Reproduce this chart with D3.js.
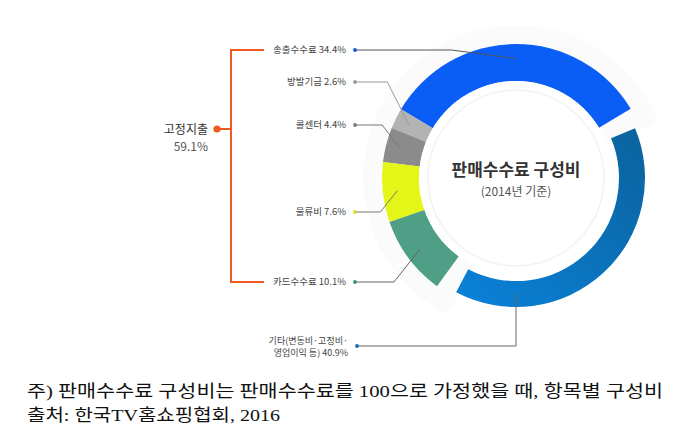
<!DOCTYPE html>
<html><head><meta charset="utf-8">
<script src="https://cdn.jsdelivr.net/npm/d3@7"></script>
<style>
body{margin:0;background:#fff;}
svg{display:block;font-family:"Noto Sans CJK KR","Noto Sans",sans-serif;}
</style>
</head><body>
<svg id="c" width="679" height="441"></svg>
<script>
// ---- data ----
const categories = ["송출수수료", "방발기금", "콜센터", "물류비", "카드수수료"];
const values = [34.4, 2.6, 4.4, 7.6, 10.1];
const otherLabelLines = ["기타(변동비·고정비·", "영업이익 등)"];
const otherValue = 40.9;
const groupLabel = "고정지출";
const groupValue = 59.1;
const titleText = "판매수수료 구성비";
const subtitleText = "(2014년 기준)";
const noteLines = ["주) 판매수수료 구성비는 판매수수료를 100으로 가정했을 때, 항목별 구성비",
                   "출처: 한국TV홈쇼핑협회, 2016"];

// ---- styles / layout ----
const colors = ["#0a5ef5", "#b3b3b3", "#8b8b8b", "#e4f518", "#4f9f86"];
const dotColors = ["#1a56d8", "#9a9a9a", "#7a7a7a", "#d4de1a", "#3f8f78"];
const lineColors = ["#555", "#999", "#777", "#777", "#666"];
const labelY = [50, 82, 125, 212, 282];
const cx = 516, cy = 178;
const rIn = 97, rOut = 134, rInO = 103, rOutO = 129, rHalo = 150;
const GAP = 8.5 * Math.PI / 180;
const fixedMid = -42.5 * Math.PI / 180;
const orange = "#ef5a24";

const svg = d3.select("#c");
const defs = svg.append("defs");
const f = defs.append("filter").attr("id", "sh").attr("x", "-20%").attr("y", "-20%").attr("width", "140%").attr("height", "140%");
f.append("feDropShadow").attr("dx", 0).attr("dy", 0).attr("stdDeviation", 2).attr("flood-color", "#000").attr("flood-opacity", 0.07);
const g2 = defs.append("linearGradient").attr("id", "og").attr("x1", 1).attr("y1", 0).attr("x2", 0).attr("y2", 1);
g2.append("stop").attr("offset", 0).attr("stop-color", "#0b629c");
g2.append("stop").attr("offset", 1).attr("stop-color", "#0a82da");

const angle = d3.scaleLinear().domain([0, 100]).range([0, 2 * Math.PI - 2 * GAP]);
const fixedSpan = angle(d3.sum(values));
const fixedEnd = fixedMid + fixedSpan / 2;
const fixedStart = fixedEnd - fixedSpan;
const pie = d3.pie().sort(null).value(d => d).startAngle(fixedEnd).endAngle(fixedStart);
const arcsData = pie(values);
const otherStart = fixedEnd + GAP;
const otherEnd = otherStart + angle(otherValue);

const chart = svg.append("g").attr("transform", `translate(${cx},${cy})`);

// halo behind fixed group
chart.append("path")
  .attr("d", d3.arc()({innerRadius: 0, outerRadius: rHalo, startAngle: fixedStart - GAP, endAngle: fixedEnd + GAP}))
  .attr("fill", "#fbfbfb").attr("filter", "url(#sh)");

const arcF = d3.arc().innerRadius(rIn).outerRadius(rOut);
chart.selectAll("path.seg").data(arcsData).join("path")
  .attr("class", "seg").attr("d", arcF).attr("fill", (d, i) => colors[i]);

const arcO = d3.arc().innerRadius(rInO).outerRadius(rOutO);
chart.append("path").attr("d", arcO({startAngle: otherStart, endAngle: otherEnd})).attr("fill", "url(#og)");

// inner circle
chart.append("circle").attr("r", rIn).attr("fill", "#fff");
chart.append("circle").attr("r", 88).attr("fill", "none").attr("stroke", "#f3f3f3").attr("stroke-width", 1.5);

chart.append("text").attr("y", -2).attr("text-anchor", "middle")
  .attr("font-size", 17).attr("font-weight", 700).attr("fill", "#333").text(titleText);
chart.append("text").attr("y", 18).attr("text-anchor", "middle")
  .attr("font-size", 12).attr("fill", "#555").text(subtitleText);

// labels and leader lines
const dotX = 355, textX = 346;
const arcMid = d3.arc().innerRadius((rIn + rOut) / 2).outerRadius((rIn + rOut) / 2 + 8);
arcsData.forEach((d, i) => {
  const c = arcMid.centroid(d);
  const tx = cx + c[0], ty = cy + c[1];
  const y = labelY[i];
  let pts;
  if (Math.abs(ty - y) < 4) pts = [[dotX, y], [tx, y]];
  else {
    const ex = dotX + 0.6 * (tx - dotX);
    pts = [[dotX, y], [ex, y], [tx, ty]];
  }
  svg.append("path").attr("d", d3.line()(pts)).attr("fill", "none")
    .attr("stroke", lineColors[i]).attr("stroke-width", 1);
  svg.append("circle").attr("cx", dotX).attr("cy", y).attr("r", 1.9).attr("fill", dotColors[i]);
  svg.append("text").attr("x", textX).attr("y", y + 3.3).attr("text-anchor", "end")
    .attr("font-size", 9.5).attr("fill", "#444")
    .text(`${categories[i]} ${values[i].toFixed(1)}%`);
});

// other label
const oy = 346;
const otx = cx + (rInO + rOutO) / 2 * Math.sin(Math.PI);
const oty = cy - (rInO + rOutO) / 2 * Math.cos(Math.PI);
svg.append("path").attr("d", d3.line()([[357, oy], [otx, oy], [otx, oty]]))
  .attr("fill", "none").attr("stroke", "#666").attr("stroke-width", 1);
svg.append("circle").attr("cx", 357).attr("cy", oy).attr("r", 1.9).attr("fill", "#1a6ab0");
svg.append("text").attr("x", 348).attr("y", 343.5).attr("text-anchor", "end")
  .attr("font-size", 9).attr("fill", "#444").text(otherLabelLines[0]);
svg.append("text").attr("x", 348).attr("y", 355.5).attr("text-anchor", "end")
  .attr("font-size", 9).attr("fill", "#444").text(`${otherLabelLines[1]} ${otherValue.toFixed(1)}%`);

// orange bracket
const bx = 231, stubX = 264;
svg.append("path")
  .attr("d", d3.line()([[stubX, labelY[0]], [bx, labelY[0]], [bx, labelY[4]], [stubX, labelY[4]]]))
  .attr("fill", "none").attr("stroke", orange).attr("stroke-width", 2);
svg.append("line").attr("x1", 217).attr("x2", bx).attr("y1", 129).attr("y2", 129)
  .attr("stroke", orange).attr("stroke-width", 2);
svg.append("circle").attr("cx", 217).attr("cy", 129).attr("r", 3.6).attr("fill", orange);
svg.append("text").attr("x", 208).attr("y", 133.5).attr("text-anchor", "end")
  .attr("font-size", 12).attr("fill", "#333").text(groupLabel);
svg.append("text").attr("x", 208).attr("y", 151).attr("text-anchor", "end")
  .attr("font-size", 12).attr("fill", "#555").text(`${groupValue.toFixed(1)}%`);

// footnotes
const noteFont = '"Liberation Serif","Noto Sans CJK KR",serif';
svg.append("text").attr("x", 27).attr("y", 397).attr("font-size", 17).attr("fill", "#111")
  .attr("font-family", noteFont).attr("textLength", 636).attr("lengthAdjust", "spacingAndGlyphs").text(noteLines[0]);
svg.append("text").attr("x", 27).attr("y", 421).attr("font-size", 17).attr("fill", "#111")
  .attr("font-family", noteFont).attr("textLength", 253).attr("lengthAdjust", "spacingAndGlyphs").text(noteLines[1]);
</script>
</body></html>
